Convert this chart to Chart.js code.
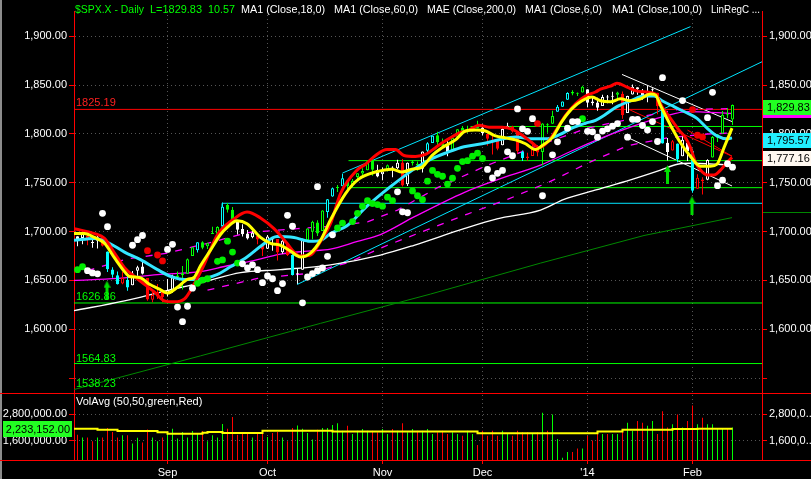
<!DOCTYPE html>
<html>
<head>
<meta charset="utf-8">
<script src="https://cdn.jsdelivr.net/npm/chart.js@4.4.1/dist/chart.umd.min.js"></script>
<style>
html,body{margin:0;padding:0;background:#000;overflow:hidden}
canvas{display:block}
</style>
</head>
<body>
<canvas id="chart" width="811" height="479"></canvas>
<script>
// trading days shown (Aug 7 2013 - Feb 13 2014)
var days = ('8/7 8/8 8/9 8/12 8/13 8/14 8/15 8/16 8/19 8/20 8/21 8/22 8/23 8/26 8/27 8/28 8/29 8/30 ' +
  '9/3 9/4 9/5 9/6 9/9 9/10 9/11 9/12 9/13 9/16 9/17 9/18 9/19 9/20 9/23 9/24 9/25 9/26 9/27 9/30 ' +
  '10/1 10/2 10/3 10/4 10/7 10/8 10/9 10/10 10/11 10/14 10/15 10/16 10/17 10/18 10/21 10/22 10/23 10/24 10/25 10/28 10/29 10/30 10/31 ' +
  '11/1 11/4 11/5 11/6 11/7 11/8 11/11 11/12 11/13 11/14 11/15 11/18 11/19 11/20 11/21 11/22 11/25 11/26 11/27 11/29 ' +
  '12/2 12/3 12/4 12/5 12/6 12/9 12/10 12/11 12/12 12/13 12/16 12/17 12/18 12/19 12/20 12/23 12/24 12/26 12/27 12/30 12/31 ' +
  '1/2 1/3 1/6 1/7 1/8 1/9 1/10 1/13 1/14 1/15 1/16 1/17 1/21 1/22 1/23 1/24 1/27 1/28 1/29 1/30 1/31 ' +
  '2/3 2/4 2/5 2/6 2/7 2/10 2/11 2/12 2/13').split(' ')

var open = [1695.3,1693.4,1696.1,1688.4,1690.7,1693.4,1679.6,1661.2,1655.3,1646.8,1650.7,1645.0,1659.9,1664.3,1652.5,1630.2,1633.5,1640.1,
  1635.9,1640.7,1653.3,1657.4,1656.9,1675.1,1681.0,1689.2,1685.0,1697.7,1697.7,1705.7,1727.3,1722.4,1711.4,1702.6,1698.0,1694.1,1695.5,1687.3,
  1682.4,1691.9,1692.4,1678.8,1687.2,1676.2,1657.0,1660.9,1691.1,1699.9,1709.2,1700.5,1720.2,1736.0,1745.2,1746.5,1752.3,1747.5,1756.0,1759.4,1762.9,1772.3,1763.2,
  1758.7,1763.4,1765.7,1765.0,1770.7,1748.4,1770.0,1769.5,1764.4,1782.8,1790.7,1798.8,1790.8,1789.6,1783.5,1797.2,1806.3,1802.9,1803.5,1808.0,
  1806.6,1800.1,1794.2,1792.8,1788.4,1806.2,1807.6,1802.8,1781.7,1777.0,1777.5,1786.5,1781.5,1809.0,1810.4,1822.9,1828.0,1835.0,1843.0,1841.5,1842.6,
  1845.9,1833.2,1832.3,1828.7,1837.9,1839.0,1840.1,1841.3,1821.4,1840.5,1848.0,1844.2,1841.1,1844.7,1842.3,1827.0,1791.0,1783.0,1790.2,1777.2,1790.9,
  1782.7,1743.8,1753.4,1753.0,1776.0,1796.2,1800.5,1820.1,1814.8]
var high = [1695.3,1700.2,1699.4,1691.5,1696.8,1695.5,1679.6,1663.6,1659.2,1658.9,1656.9,1659.6,1664.9,1669.5,1652.5,1641.2,1646.4,1640.6,
  1651.4,1655.7,1659.2,1664.8,1672.4,1684.1,1689.1,1690.0,1688.7,1705.0,1705.5,1729.9,1729.4,1725.2,1711.4,1707.6,1701.7,1703.9,1695.5,1687.3,
  1696.6,1693.9,1692.4,1691.9,1687.2,1676.8,1662.5,1692.6,1703.4,1711.0,1711.6,1721.8,1733.5,1745.3,1747.8,1759.3,1752.3,1753.9,1759.8,1765.0,1772.1,1775.2,1768.5,
  1765.7,1768.8,1767.0,1773.7,1774.5,1770.8,1773.4,1771.8,1782.0,1791.5,1798.2,1802.3,1795.5,1795.7,1797.2,1804.8,1808.1,1808.4,1808.3,1813.6,
  1810.0,1800.1,1799.8,1792.8,1806.0,1811.5,1808.5,1803.0,1783.0,1780.9,1792.2,1786.8,1811.1,1810.9,1823.8,1829.8,1833.3,1842.8,1844.9,1842.5,1849.4,
  1845.9,1838.2,1837.2,1840.1,1840.0,1843.2,1843.2,1843.5,1839.3,1850.8,1848.0,1846.0,1849.3,1846.9,1842.3,1827.0,1796.0,1793.9,1790.2,1798.8,1793.9,
  1784.8,1758.7,1755.8,1774.1,1798.0,1799.9,1823.5,1826.6,1830.3]
var low = [1684.9,1687.1,1686.0,1683.4,1682.6,1684.8,1658.6,1652.6,1645.8,1646.1,1639.4,1645.0,1654.8,1656.0,1629.1,1627.5,1630.9,1627.5,
  1633.4,1637.4,1653.1,1640.6,1656.9,1675.1,1678.7,1682.0,1682.2,1697.7,1697.7,1700.7,1719.5,1708.9,1697.1,1694.9,1691.9,1693.1,1687.0,1675.0,
  1682.1,1680.3,1670.4,1677.3,1675.0,1655.0,1646.5,1660.9,1689.0,1692.1,1695.5,1700.5,1714.1,1735.7,1740.6,1746.5,1740.5,1745.5,1752.5,1757.7,1762.9,1757.2,1755.7,
  1752.7,1761.6,1755.8,1764.2,1746.2,1746.6,1767.8,1762.3,1760.6,1780.2,1790.7,1788.4,1784.7,1777.2,1783.5,1794.7,1800.6,1800.8,1802.8,1805.8,
  1798.6,1787.9,1779.1,1783.4,1788.4,1806.2,1801.4,1780.1,1772.3,1772.5,1777.5,1777.2,1768.0,1801.2,1810.4,1822.9,1828.0,1835.0,1839.8,1838.8,1842.4,
  1827.7,1829.1,1823.7,1828.7,1831.4,1830.4,1834.4,1815.5,1821.4,1840.5,1840.3,1835.2,1832.4,1840.9,1820.1,1790.3,1772.9,1783.0,1771.0,1777.2,1772.3,
  1739.7,1743.8,1737.9,1752.6,1776.0,1791.8,1800.5,1816.0,1809.2]
var close = [1690.9,1697.5,1691.4,1689.5,1694.2,1685.4,1661.3,1655.8,1646.1,1652.4,1642.8,1657.0,1663.5,1656.8,1630.5,1635.0,1638.2,1633.0,
  1639.8,1653.1,1655.1,1655.2,1671.7,1684.0,1689.1,1683.4,1688.0,1697.6,1704.8,1725.5,1722.3,1709.9,1701.8,1697.4,1692.8,1698.7,1691.8,1681.6,
  1695.0,1693.9,1678.7,1690.5,1676.1,1655.5,1656.4,1692.6,1703.2,1710.1,1698.1,1721.5,1733.2,1744.5,1744.7,1754.7,1746.4,1752.1,1759.8,1762.1,1772.0,1763.3,1756.5,
  1761.6,1767.9,1763.0,1770.5,1747.2,1770.6,1771.9,1767.7,1782.0,1790.6,1798.2,1791.5,1787.9,1781.4,1795.9,1804.8,1802.5,1802.8,1807.2,1805.8,
  1800.9,1795.2,1792.8,1785.0,1805.1,1808.4,1802.6,1782.2,1775.5,1775.3,1786.5,1781.0,1810.7,1809.6,1818.3,1828.0,1833.3,1842.0,1841.4,1841.1,1848.4,
  1832.0,1831.4,1826.8,1837.9,1837.5,1838.1,1842.4,1819.2,1838.9,1848.4,1845.9,1838.7,1843.8,1844.9,1828.5,1790.3,1781.6,1792.5,1774.2,1794.2,1782.6,
  1741.9,1755.2,1751.6,1773.4,1797.0,1799.8,1819.8,1819.3,1829.8]
var volume = [1867000,1733000,1733000,1570000,1733000,1733000,2164000,1987000,1733000,1837000,1837000,1467000,1720000,1511000,2100000,1733000,1570000,1733000,
  1987000,2133000,1689000,1987000,1733000,2030000,1911000,2030000,1570000,1837000,1733000,2356000,2133000,2667000,1867000,1987000,1987000,1733000,1940000,1940000,
  1763000,1940000,1987000,1733000,1570000,2164000,2280000,2133000,1940000,1644000,2090000,2164000,2164000,2311000,2380000,2040000,2270000,1900000,2040000,2120000,2040000,2040000,1970000,
  2120000,1900000,2120000,2040000,2380000,1970000,2120000,2040000,2040000,2120000,1900000,1970000,2040000,1900000,1970000,1900000,1820000,2040000,1900000,1400000,
  2040000,1820000,2040000,1820000,2040000,1900000,1820000,2040000,1970000,1970000,1900000,1970000,2860000,2040000,2790000,1670000,810000,1080000,1080000,1230000,1230000,
  1820000,1600000,1900000,1900000,1900000,1900000,1900000,2040000,2410000,2040000,2490000,2410000,2270000,2490000,1900000,2930000,2190000,2340000,2790000,2190000,2490000,
  3200000,2340000,2640000,2340000,2340000,2120000,2120000,2120000,2190000]

// candle colour per bar as seen in the picture: w white, g green, r red, c cyan
var tone = 'wwrwwrcccrcwwwrrrr' + 'wwggggcggggcggwwwwrr' + 'wwrwrcwwggggccgcggggggw' +
  'wgwwrwggwccggwgggggg' + 'wrrrwwrrcrrrgggcccggg' + 'wwwwwwgrwwwwwwrcwrcww' + 'crrwggggg'

var monthDays = ['9/3','10/1','11/1','12/2','1/2','2/3']
var monthLabels = ['Sep','Oct','Nov','Dec',"'14",'Feb']
var priceTicks = [1550,1600,1650,1700,1750,1800,1850,1900]
var volTicks = [1600000,2800000]

// indicator lines: [bar, value]
var ma6 = [[-0.7,1698],[1.4,1698],[3.4,1694],[5.4,1688],[7.4,1673],[9.4,1659],[10.4,1654],[12.4,1653],[14.4,1646],[16.4,1641],[18,1637],[20,1643],[22,1651],[23.3,1653],[24.6,1665],[26.6,1681],[28.6,1697],[29.9,1704],[31.9,1711],[33.9,1708],[36.6,1694],[38.6,1688],[40.6,1686],[42.6,1680],[44.6,1674],[46.6,1678],[48.6,1691],[50.6,1712],[53.6,1739],[56.3,1754],[59.6,1761],[62.9,1764],[64.9,1761],[66.9,1764],[68.9,1766],[70.9,1778],[72.9,1786],[75.6,1794],[77.6,1803],[79.6,1804],[81.6,1803],[83.6,1798],[85.6,1796],[87.6,1794],[89.6,1790],[91.6,1784],[92.9,1788],[94.9,1796],[96.9,1813],[98.9,1826],[100.9,1834],[102.9,1838],[104.6,1834],[106.6,1833],[108.6,1836],[110.6,1834],[112.6,1836],[114.6,1841],[115.6,1840],[116.6,1829],[118.6,1809],[120.6,1791],[122.6,1777],[124.6,1767],[126.6,1767],[127.9,1769],[129.3,1786],[130.9,1806]]
var trail = [[-0.7,1703],[3.4,1698],[5.4,1693],[7.4,1678],[9.4,1663],[11.4,1654],[13.4,1646],[15.4,1638],[17.4,1629],[19.4,1628],[21.4,1631],[23.3,1646],[25.3,1666],[27.9,1696],[31.3,1713],[33.9,1720],[36.6,1714],[39.3,1703],[41.9,1688],[43.3,1679],[44.6,1675],[46.6,1676],[48.6,1690],[50.6,1708],[52.6,1739],[55.9,1763],[57.6,1769],[59.6,1778],[61.9,1784],[63.6,1784],[65.3,1778],[67.6,1777],[69.6,1779],[71.6,1786],[73.6,1793],[76.3,1801],[78.3,1804],[80.3,1809],[82.3,1807],[84.9,1807],[86.9,1805],[88.9,1799],[90.9,1791],[92.3,1786],[93.9,1791],[95.6,1803],[97.6,1819],[99.6,1831],[101.6,1839],[103.6,1843],[104.6,1846],[106.6,1849],[107.9,1852],[109.9,1848],[111.9,1844],[113.9,1843],[115.6,1841],[116.9,1828],[118.6,1816],[120.3,1804],[121.6,1796],[122.6,1786],[123.6,1771],[124.6,1763],[125.9,1758],[127.3,1758],[128.6,1763],[129.9,1771],[130.9,1776]]
var ma18 = [[-0.7,1691],[3.4,1693],[6,1689],[9.4,1679],[12.7,1671],[16,1661],[18.7,1654],[21.4,1651],[24,1651],[27.9,1656],[30.6,1664],[33.9,1674],[36.9,1686],[39.9,1695],[43.3,1694],[46.6,1690],[48.6,1691],[50.6,1698],[53.9,1706],[57.9,1726],[62.6,1746],[67.3,1764],[70.6,1774],[73.9,1781],[77.3,1787],[80.9,1790],[84.3,1794],[87.6,1797],[90.9,1795],[93.6,1795],[96.3,1799],[98.9,1806],[101.6,1811],[103.6,1814],[105.3,1819],[107.9,1828],[110.6,1834],[113.3,1839],[115.3,1839],[116.9,1834],[119.3,1828],[121.3,1823],[123.9,1816],[125.9,1806],[127.9,1798],[129.9,1795],[130.9,1796]]
var ma60 = [[-0.7,1650],[8,1652],[16,1656],[24.6,1659],[30,1665],[35,1670],[40.6,1677],[46,1680],[50.6,1682],[56,1690],[60.6,1697],[67.3,1715],[77.3,1740],[83.9,1753],[92.6,1768],[97.3,1779],[103.9,1794],[110.6,1807],[117.3,1818],[122,1823],[130.9,1821]]
var envUp = [[2,1660],[10,1672],[18,1678],[26,1688],[34,1699],[44,1703],[52,1706],[58,1710],[64,1722],[72,1745],[82,1768],[92,1788],[102,1806],[112,1817],[120,1825],[130.9,1826]]
var envDn = [[26,1640],[36,1652],[46,1657],[54,1668],[62,1686],[70,1702],[78,1718],[86,1733],[94,1750],[102,1770],[110,1788],[118,1796],[126,1800],[130.9,1801]]
var ma100 = [[-0.7,1619],[9.4,1629],[17.4,1639],[25,1648],[32.6,1658],[40.6,1661],[50.6,1666],[60.6,1676],[67.3,1686],[77.3,1703],[83.9,1713],[92.6,1722],[97.3,1733],[103.9,1743],[110.6,1753],[116.6,1763],[120,1769],[122.6,1770],[127.9,1769],[130.9,1768]]
var mae200 = [[-0.7,1538.2],[24.6,1572.7],[42.6,1597.7],[48.6,1606],[70.6,1636],[92.6,1667.7],[113.3,1696],[130.9,1714.3]]
// volume average steps: [first bar of step, value]
var volAvg = [[-0.7,2164000],[4,2130000],[8,2090000],[16,2030000],[18,1970000],[25,1910000],[26,1950000],[29,1987000],[37,1940000],[51,2040000],[80,2010000],[104,1930000],[109,2010000],[119,2090000],[124,2120000],[131,2130000]]

var dotsWhite = [[2,1660],[3,1657.7],[4,1656.7],[5,1718.7],[6,1705],[11,1686],[12,1691.7],[13,1696],[18,1681.7],[19,1687],[20,1622.7],[21,1607.7],[22,1623.5],[23,1642],
  [33,1667],[34,1662.7],[35,1666],[36,1661],[37,1647.7],[38,1654.5],[39,1651.7],[40,1639.5],[41,1646.7],[42,1716.7],[43,1705.5],[45,1627],[46,1653.5],[47,1657],[48,1746],[48,1660],[49,1662.7],[50,1674.7],[51,1696.7],
  [64,1740.7],[65,1720.3],[66,1719.3],[82,1763.7],[83,1755],[84,1759.7],[85,1762.7],[86,1781.7],[87,1777.7],[88,1825.7],[89,1805.3],[90,1802.7],[91,1815.7],[93,1736.7],[95,1778.7],[96,1792],
  [98,1806],[99,1812.7],[100,1812.7],[102,1802.7],[103,1802.2],[104,1796.7],[105,1803],[106,1805.3],[107,1808],[108,1810.7],[110,1796.7],[111,1815],[112,1815],[113,1808.7],[114,1804],[115,1812.7],[116,1792.3],[117,1857.7],
  [121,1834.2],[126,1816.7],[127,1842.7],[128,1747],[129,1752.7],[130,1769.5],[131,1766]]
var dotsGreen = [[0,1661],[1,1664],[24,1647],[25,1650.3],[26,1651.7],[28,1669.5],[29,1671],[30,1690.2],[31,1679],[32,1667.7],
  [52,1703.7],[53,1708.7],[55,1710.3],[56,1718.7],[57,1726],[58,1731.7],[59,1728.7],[60,1727.7],[61,1726],[62,1735.3],[63,1731.7],
  [67,1741.7],[68,1736.7],[69,1732.7],[70,1751.7],[71,1762.7],[72,1758.7],[73,1756.7],[74,1748.7],[75,1754.7],[76,1764.8],[77,1771.7],[78,1772.7],[79,1777.3],[80,1780.3],[81,1775],[101,1815.7]]
var dotsRed = [[14,1680.5],[16,1676],[17,1670],[92,1810.7],[123,1825],[124,1798.7],[125,1797]]
var arrows = [[5.9,1640],[118,1758.5],[122.9,1726.5]]

// drawn levels and trend lines
var X0 = -0.7, X1 = 136.9
var lvlRed = [[X0,1825.19],[X1,1825.19]]
var lvlLow = [[X0,1626.86],[X1,1626.86]]
var lvlLow2 = [[X0,1564.83],[X1,1564.83]]
var lvlA = [[78.6,1807.7],[X1,1807.7]]
var lvlB = [[54.2,1772.7],[X1,1772.7]]
var lvlC = [[54.2,1745],[X1,1745]]
var boxCyan = [[28.9,1703],[28.9,1729],[X1,1729]]
var chanUp = [[53,1760],[122.6,1910]]
var chanDn = [[44,1654],[44,1646],[X1,1874]]
var wedgeUp = [[108.9,1861],[130.9,1812.7]]
var wedgeDn = [[109.9,1796.7],[130.9,1746.7]]
var regLine = [[109.9,1826],[130.9,1777.2]]
var regLine2 = [[122,1804],[130.9,1777.2]]

var FONT = '"Liberation Sans", Arial, sans-serif'
var toneColor = {w:'#ffffff', g:'#00ff00', r:'#ff0000', c:'#00ffff'}
var idx = close.map(function(_, i){ return i })
var barCol = idx.map(function(i){ return toneColor[tone[i]] })
var tickIdx = monthDays.map(function(d){ return days.indexOf(d) })

function fmt(v){
    return v.toLocaleString('en-US', {minimumFractionDigits:2, maximumFractionDigits:2})
}
function pts(a){
    return a.map(function(p){ return {x:p[0], y:p[1]} })
}
function line(a, color, width, order, extra){
    var ds = {type:'line', data:pts(a), borderColor:color, borderWidth:width, pointRadius:0,
        fill:false, yAxisID:'y', order:order}
    for (var k in extra) ds[k] = extra[k]
    return ds
}
function dots(a, color){
    return {type:'scatter', data:pts(a), backgroundColor:color, borderWidth:0,
        pointRadius:3.4, yAxisID:'y', order:1}
}

// green up-arrow used as point style
var arrowImg = document.createElement('canvas')
arrowImg.width = 7
arrowImg.height = 19
var ag = arrowImg.getContext('2d')
ag.fillStyle = '#00dd00'
ag.beginPath()
ag.moveTo(3.5,0); ag.lineTo(7,7); ag.lineTo(5,7); ag.lineTo(5,19); ag.lineTo(2,19); ag.lineTo(2,7); ag.lineTo(0,7)
ag.closePath()
ag.fill()

var smooth = {cubicInterpolationMode:'monotone'}

var datasets = [
    {type:'scatter', data:pts(arrows), pointStyle:arrowImg, pointRadius:10, yAxisID:'y', order:0},
    dots(dotsWhite, '#ffffff'),
    dots(dotsGreen, '#00ee00'),
    dots(dotsRed, '#ee0000'),
    line(ma6, '#ffff00', 3, 2, smooth),
    line(trail, '#ff0000', 3, 3, smooth),
    line(ma18, '#33e6ff', 3, 4, smooth),
    {type:'bar', data:idx.map(function(i){ return {x:i, y:[Math.min(open[i],close[i]), Math.max(open[i],close[i])]} }),
        backgroundColor:idx.map(function(i){ return close[i] >= open[i] ? '#000000' : barCol[i] }),
        borderColor:barCol, borderWidth:1, borderSkipped:false, barThickness:3, minBarLength:1,
        inflateAmount:0, grouped:false, yAxisID:'y', order:5},
    {type:'bar', data:idx.map(function(i){ return {x:i, y:[low[i], high[i]]} }),
        backgroundColor:barCol, borderWidth:0, barThickness:1, inflateAmount:0, grouped:false, yAxisID:'y', order:6},
    line(ma100, '#ffffff', 1.3, 7, smooth),
    line(ma60, '#ff00ff', 1.3, 8, smooth),
    line(envUp, '#ff00ff', 1.3, 9, {borderDash:[7,8]}),
    line(envDn, '#ff00ff', 1.3, 9, {borderDash:[7,8]}),
    line(mae200, '#008800', 1, 10),
    line(lvlRed, '#ff0000', 1, 11),
    line(lvlLow, '#00ff00', 1, 11),
    line(lvlLow2, '#00ff00', 1, 11),
    line(lvlA, '#00ff00', 1, 11),
    line(lvlB, '#00ff00', 1, 11),
    line(lvlC, '#00ff00', 1, 11),
    line(boxCyan, '#00e5ff', 1, 11),
    line(chanUp, '#00e5ff', 1, 11),
    line(chanDn, '#00e5ff', 1, 11),
    line(wedgeUp, '#ffffff', 1, 11),
    line(wedgeDn, '#ffffff', 1, 11),
    line(regLine, '#ff0000', 1, 11),
    line(regLine2, '#ff0000', 1, 11),
    // volume panel
    line(volAvg, '#ffff00', 2, 4, {yAxisID:'yv', stepped:'after'}),
    {type:'bar', data:idx.map(function(i){ return {x:i, y:volume[i]} }),
        backgroundColor:idx.map(function(i){ return i > 0 && close[i] >= close[i-1] ? '#00ff00' : '#ff0000' }),
        borderWidth:0, barThickness:1, inflateAmount:0, grouped:false, yAxisID:'yv', order:5}
]

var gridCol = '#555555'
function yAxis(pos, stackWeight, min, max, ticks, label, width){
    return {
        type:'linear', position:pos, stack:pos, stackWeight:stackWeight, min:min, max:max,
        afterBuildTicks: function(s){ s.ticks = ticks.map(function(v){ return {value:v} }) },
        afterFit: function(s){ s.width = width; s.paddingTop = 0; s.paddingBottom = 0 },
        ticks:{color:'#ffffff', font:{family:FONT, size:11}, padding:2, callback:label},
        grid:{color:gridCol, tickColor:'#ff0000', tickLength:5, drawOnChartArea:pos === 'left'},
        border:{color:'#ff0000', dash:[1,3]}
    }
}

// black background, headings and value tags
var overlay = {
    id:'overlay',
    beforeDraw: function(c){
        var g = c.ctx
        g.save()
        g.fillStyle = '#000000'
        g.fillRect(0, 0, c.width, c.height)
        g.restore()
    },
    afterDraw: function(c){
        var g = c.ctx, ys = c.scales.y, vs = c.scales.yv
        g.save()
        g.fillStyle = '#8c8c8c'
        g.fillRect(0, 0, 2, c.height)
        g.fillStyle = '#ff0000'
        g.fillRect(0, Math.round(vs.top), c.width, 1)
        g.fillRect(0, Math.round(vs.bottom), c.width, 1)

        g.font = '11px ' + FONT
        g.textBaseline = 'alphabetic'
        g.textAlign = 'left'
        // heading pieces: text, left edge, width, colour
        var title = [['$SPX.X - Daily',75,69,'#00ff00'],['L=1829.83',150,52,'#00ff00'],['10.57',208,27,'#00ff00'],
            ['MA1 (Close,18,0)',241,84,'#ffffff'],['MA1 (Close,60,0)',334,84,'#ffffff'],['MAE (Close,200,0)',427,89,'#ffffff'],
            ['MA1 (Close,6,0)',525,77,'#ffffff'],['MA1 (Close,100,0)',612,90,'#ffffff'],['LinRegC ...',711,49,'#ffffff']]
        title.forEach(function(t){ g.fillStyle = t[3]; g.fillText(t[0], t[1], 13, t[2]) })

        var y = function(v){ return ys.getPixelForValue(v) }
        g.fillStyle = '#ff2020'
        g.fillText('1825.19', 76, y(1825.19) - 3)
        g.fillStyle = '#00ff00'
        g.fillText('1626.86', 76, y(1626.86) - 3)
        g.fillText('1564.83', 76, y(1564.83) - 2)
        g.fillText('1538.23', 76, y(1538.23) - 2)
        g.fillStyle = '#ffffff'
        g.fillText('VolAvg (50,50,green,Red)', 76, Math.round(vs.top) + 12)

        // right-axis value tags
        var tag = function(v, text, bg){
            var py = Math.round(y(v)) + 2
            g.fillStyle = bg
            g.fillRect(763, py - 7, 48, 15)
            g.fillStyle = '#000000'
            g.fillText(text, 767, py + 4)
            return py
        }
        var gy = tag(1829.83, '1,829.83', '#22ff22')
        g.fillStyle = '#ff00ff'
        g.fillRect(763, gy + 8, 48, 3)
        tag(1795.57, '1,795.57', '#22eeff')
        tag(1777.16, '1,777.16', '#fff8f0')
        g.fillStyle = '#008800'
        g.fillRect(763, Math.round(y(1720)), 48, 1)

        // volume average tag
        var vy = Math.round(vs.getPixelForValue(2130000))
        g.fillStyle = '#22ff22'
        g.fillRect(3, vy - 8, 69, 16)
        g.fillStyle = '#000000'
        g.textAlign = 'right'
        g.fillText('2,233,152.00', 70, vy + 4)
        g.restore()
    }
}

var chart = new Chart(document.getElementById('chart').getContext('2d'), {
    type:'bar',
    data:{datasets:datasets},
    plugins:[overlay],
    options:{
        responsive:false,
        devicePixelRatio:1,
        animation:false,
        events:[],
        layout:{padding:0},
        plugins:{legend:{display:false}, tooltip:{enabled:false}},
        scales:{
            x:{
                type:'linear', min:X0, max:X1, offset:false,
                afterBuildTicks: function(s){ s.ticks = tickIdx.map(function(v){ return {value:v} }) },
                afterFit: function(s){ s.height = 19; s.paddingLeft = 0; s.paddingRight = 0 },
                ticks:{color:'#ffffff', font:{family:FONT, size:11}, padding:2, maxRotation:0, autoSkip:false,
                    callback: function(v, k){ return monthLabels[k] }},
                grid:{color:gridCol, tickColor:'#ff0000', tickLength:4, offset:false},
                border:{color:'#ff0000', dash:[1,3]}
            },
            // left boxes are stacked bottom-up, so the volume axis is listed first there
            yv: yAxis('left', 69, 711000, 3780000, volTicks, function(v){ return fmt(v) }, 74),
            y: yAxis('left', 391, 1535, 1926, priceTicks, function(v){ return v < 1600 ? '' : fmt(v) }, 74),
            y2: yAxis('right', 391, 1535, 1926, priceTicks, function(v){ return v < 1600 ? '' : fmt(v) }, 49),
            yv2: yAxis('right', 69, 711000, 3780000, volTicks, function(v){ return fmt(v).slice(0, 7) + '...' }, 49)
        }
    }
})
</script>
</body>
</html>
